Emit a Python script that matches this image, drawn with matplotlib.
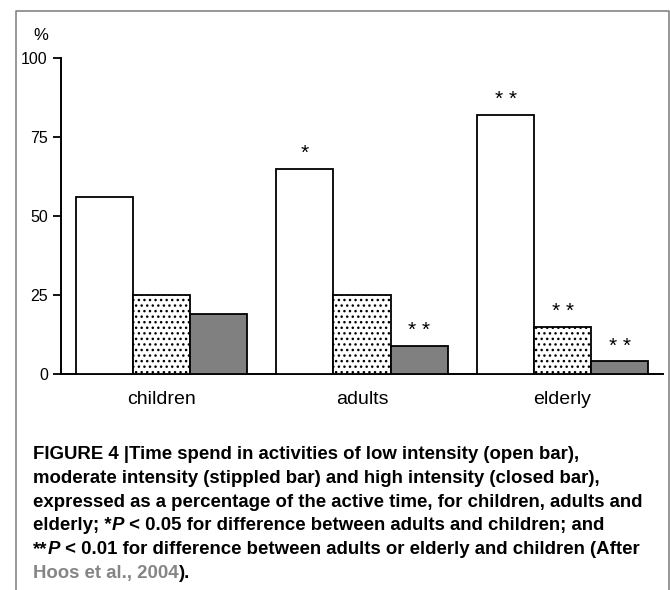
import matplotlib
matplotlib.use("Agg")
import matplotlib.pyplot as plt
from matplotlib.lines import Line2D
from matplotlib import font_manager
import numpy as np

# ---------------- data ----------------
groups = ["children", "adults", "elderly"]
low_intensity = [56, 65, 82]        # open bars
moderate_intensity = [25, 25, 15]   # stippled bars
high_intensity = [19, 9, 4]         # closed bars
stars_low = ["", "*", "**"]
stars_moderate = ["", "", "**"]
stars_high = ["", "**", "**"]
yticks = [0, 25, 50, 75, 100]

caption_lines = [
    [("FIGURE 4 |Time spend in activities of low intensity (open bar),", "normal", "black")],
    [("moderate intensity (stippled bar) and high intensity (closed bar),", "normal", "black")],
    [("expressed as a percentage of the active time, for children, adults and", "normal", "black")],
    [("elderly; *", "normal", "black"), ("P", "italic", "black"),
     (" < 0.05 for difference between adults and children; and", "normal", "black")],
    [("**", "normal", "black"), ("P", "italic", "black"),
     (" < 0.01 for difference between adults or elderly and children (After", "normal", "black")],
    [("Hoos et al., 2004", "normal", "#858585"), (").", "normal", "black")],
]
# right edge (pixels) of each caption line in the reference
caption_right = [603, 602, 637, 604, 646, 185]

# ---------------- figure ----------------
plt.rcParams["font.family"] = ["Liberation Sans", "DejaVu Sans"]
plt.rcParams["hatch.linewidth"] = 1.0

def has_font(name):
    try:
        font_manager.findfont(font_manager.FontProperties(family=name, weight="bold"),
                              fallback_to_default=False)
        return True
    except Exception:
        return False

cap_family = "Liberation Sans Narrow" if has_font("Liberation Sans Narrow") else "Liberation Sans"

W, H = 670, 590
fig = plt.figure(figsize=(W / 100, H / 100), dpi=100)

def px(x, y):
    return x / W, (H - y) / H

ax_left, ax_right, ax_top, ax_bottom = 61, 663, 58, 374
ax = fig.add_axes([ax_left / W, (H - ax_bottom) / H,
                   (ax_right - ax_left) / W, (ax_bottom - ax_top) / H])

bar_w = 1.0
spacing = 3.5175
centers = np.arange(len(groups)) * spacing
series = [
    (low_intensity, dict(facecolor="white", hatch=None), stars_low),
    (moderate_intensity, dict(facecolor="white", hatch="..."), stars_moderate),
    (high_intensity, dict(facecolor="#808080", hatch=None), stars_high),
]
for j, (vals, style, stars) in enumerate(series):
    xs = centers + (j - 1) * bar_w
    ax.bar(xs, vals, width=bar_w, edgecolor="black", linewidth=1.3,
           zorder=3, **style)
    for x, v, s in zip(xs, vals, stars):
        if s:
            ax.annotate(" ".join(s), xy=(x, v), xytext=(0, 7),
                        textcoords="offset points", ha="center",
                        va="baseline", fontsize=15, color="black")

margin = 0.263
ax.set_xlim(centers[0] - 1.5 * bar_w - margin, centers[-1] + 1.5 * bar_w + margin)
ax.set_ylim(0, 100)
ax.set_yticks(yticks)
ax.set_yticklabels([str(t) for t in yticks], fontsize=11.5)
ax.set_xticks(centers)
ax.set_xticklabels(groups, fontsize=14)
ax.tick_params(axis="x", length=0, pad=12.5)
ax.tick_params(axis="y", direction="out", length=6, width=1.3, pad=3.5)
for side in ("top", "right"):
    ax.spines[side].set_visible(False)
for side in ("left", "bottom"):
    ax.spines[side].set_linewidth(1.4)
ax.set_facecolor("none")

fig.text(*px(41, 35), "%", fontsize=12, ha="center", va="center")

# border frame
bx0, bx1, by0 = 16, 668.5, 11
xs_b = [bx0, bx0, bx1, bx1]
ys_b = [H + 2, by0, by0, H + 2]
fig.add_artist(Line2D([x / W for x in xs_b], [(H - y) / H for y in ys_b],
                      color="#7a7a7a", linewidth=1.1, transform=fig.transFigure))

# caption
renderer = fig.canvas.get_renderer()
x0 = 33

def line_width(pieces, size):
    total = 0
    for text, style, color in pieces:
        t = fig.text(0, 0, text, fontsize=size, fontweight="bold",
                     fontstyle=style, family=cap_family)
        total += t.get_window_extent(renderer).width
        t.remove()
    return total

fits = [12 * (r - x0) / line_width(p, 12) for p, r in zip(caption_lines, caption_right)]
cap_size = min(sorted(fits[:5])[2], min(fits[:5]) * 1.015)

base0 = 459
line_step = 23.8
for i, pieces in enumerate(caption_lines):
    x = x0
    y = base0 + i * line_step
    for text, style, color in pieces:
        t = fig.text(*px(x, y), text, fontsize=cap_size, fontweight="bold",
                     fontstyle=style, color=color, ha="left", va="baseline",
                     family=cap_family)
        x += t.get_window_extent(renderer).width

fig.savefig("out.png", dpi=100)
